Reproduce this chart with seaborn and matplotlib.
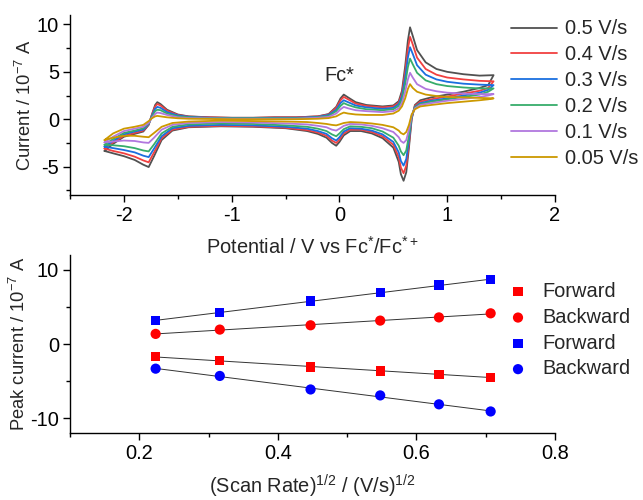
import matplotlib
matplotlib.use("Agg")
import matplotlib.pyplot as plt
import numpy as np
import pandas as pd
import seaborn as sns
from matplotlib.ticker import MultipleLocator

# --- cyclic voltammograms (current in 1e-7 A) ---
scan_rates = ["0.5 V/s", "0.4 V/s", "0.3 V/s", "0.2 V/s", "0.1 V/s", "0.05 V/s"]
cv_colors = ["#515151", "#F14040", "#1A6FDF", "#37AD6B", "#B177DE", "#CC9900"]

E_fwd = [-2.18, -2.1, -2.0, -1.9, -1.82, -1.77, -1.74, -1.71, -1.69, -1.66, -1.6,
         -1.5, -1.4, -1.2, -1.0, -0.8, -0.6, -0.4, -0.2, -0.1, -0.03, 0.01, 0.04,
         0.08, 0.15, 0.25, 0.40, 0.50, 0.55, 0.58, 0.61, 0.635, 0.655, 0.68, 0.72,
         0.8, 0.9, 1.0, 1.15, 1.3, 1.43]
E_rev = [1.43, 1.38, 1.3, 1.15, 1.0, 0.85, 0.75, 0.70, 0.67, 0.645, 0.62, 0.595,
         0.57, 0.55, 0.50, 0.40, 0.30, 0.20, 0.10, 0.04, 0.0, -0.03, -0.07, -0.12,
         -0.2, -0.3, -0.5, -0.8, -1.1, -1.4, -1.55, -1.65, -1.72, -1.77, -1.82,
         -1.9, -2.0, -2.1, -2.18]

I_fwd = {
    "0.5 V/s": [-3.35, -2.6, -1.85, -1.55, -1.3, -0.6, 0.5, 1.5, 1.8, 1.6, 1.0, 0.5, 0.3,
                0.2, 0.15, 0.15, 0.2, 0.2, 0.3, 0.55, 1.3, 2.2, 2.6, 2.3, 1.8, 1.5, 1.35,
                1.45, 1.9, 3.0, 5.6, 8.3, 9.7, 8.8, 7.3, 6.0, 5.3, 5.0, 4.75, 4.6, 4.65],
    "0.4 V/s": [-3.1, -2.45, -1.75, -1.45, -1.2, -0.55, 0.45, 1.35, 1.6, 1.45, 0.9, 0.45,
                0.28, 0.2, 0.15, 0.15, 0.2, 0.2, 0.3, 0.5, 1.2, 2.0, 2.35, 2.1, 1.65, 1.4,
                1.25, 1.35, 1.75, 2.7, 5.0, 7.4, 8.7, 7.9, 6.5, 5.3, 4.7, 4.4, 4.2, 4.05, 4.0],
    "0.3 V/s": [-2.9, -2.3, -1.6, -1.3, -1.1, -0.5, 0.35, 1.1, 1.3, 1.2, 0.75, 0.4, 0.25,
                0.15, 0.12, 0.12, 0.15, 0.15, 0.25, 0.45, 1.0, 1.7, 2.0, 1.8, 1.45, 1.25,
                1.1, 1.2, 1.6, 2.4, 4.4, 6.5, 7.6, 6.9, 5.7, 4.7, 4.2, 3.95, 3.75, 3.65, 3.6],
    "0.2 V/s": [-2.7, -2.1, -1.45, -1.2, -0.95, -0.45, 0.25, 0.85, 1.0, 0.95, 0.6, 0.3,
                0.2, 0.12, 0.1, 0.1, 0.1, 0.1, 0.2, 0.35, 0.85, 1.4, 1.7, 1.5, 1.25, 1.05,
                0.95, 1.05, 1.4, 2.1, 3.7, 5.5, 6.4, 5.8, 4.9, 4.1, 3.7, 3.5, 3.35, 3.25, 3.25],
    "0.1 V/s": [-2.45, -1.85, -1.25, -1.0, -0.8, -0.4, 0.15, 0.55, 0.7, 0.65, 0.45, 0.2,
                0.12, 0.08, 0.05, 0.05, 0.05, 0.05, 0.15, 0.25, 0.6, 1.05, 1.3, 1.15, 0.95,
                0.85, 0.75, 0.85, 1.15, 1.7, 2.9, 4.2, 4.9, 4.4, 3.7, 3.2, 2.95, 2.8, 2.7,
                2.65, 2.65],
    "0.05 V/s": [-2.2, -1.5, -1.0, -0.8, -0.6, -0.2, 0.1, 0.3, 0.35, 0.3, 0.2, 0.1, 0.05,
                 0.03, 0.0, 0.0, 0.0, 0.0, 0.05, 0.12, 0.3, 0.55, 0.7, 0.6, 0.5, 0.45, 0.45,
                 0.6, 0.9, 1.35, 2.2, 3.2, 3.7, 3.3, 2.9, 2.6, 2.45, 2.35, 2.3, 2.25, 2.2],
}
I_rev = {
    "0.5 V/s": [4.65, 3.6, 3.3, 2.9, 2.6, 2.3, 2.0, 1.5, 0.0, -3.0, -5.6, -6.5, -5.8, -4.5,
                -3.0, -2.0, -1.5, -1.25, -1.25, -1.7, -2.4, -2.8, -2.5, -1.95, -1.55, -1.25,
                -0.95, -0.8, -0.75, -0.85, -1.2, -2.2, -3.9, -5.05, -4.8, -4.3, -3.9, -3.6, -3.35],
    "0.4 V/s": [4.0, 3.3, 3.0, 2.7, 2.4, 2.1, 1.85, 1.4, 0.1, -2.6, -4.9, -5.7, -5.1, -4.0,
                -2.7, -1.8, -1.35, -1.1, -1.1, -1.5, -2.15, -2.5, -2.25, -1.75, -1.4, -1.15,
                -0.9, -0.75, -0.7, -0.8, -1.1, -2.0, -3.5, -4.55, -4.35, -3.95, -3.6, -3.35, -3.1],
    "0.3 V/s": [3.6, 3.1, 2.8, 2.5, 2.2, 1.95, 1.7, 1.3, 0.2, -2.2, -4.2, -4.9, -4.4, -3.5,
                -2.4, -1.6, -1.2, -1.0, -0.95, -1.3, -1.9, -2.25, -2.0, -1.55, -1.25, -1.0,
                -0.8, -0.65, -0.6, -0.7, -0.95, -1.8, -3.1, -4.0, -3.85, -3.5, -3.25, -3.05, -2.9],
    "0.2 V/s": [3.25, 2.9, 2.6, 2.35, 2.1, 1.85, 1.6, 1.25, 0.3, -1.7, -3.3, -3.8, -3.4, -2.8,
                -1.95, -1.3, -0.95, -0.8, -0.75, -1.05, -1.5, -1.8, -1.6, -1.25, -1.0, -0.8,
                -0.65, -0.5, -0.45, -0.55, -0.8, -1.5, -2.65, -3.4, -3.3, -3.05, -2.85, -2.75, -2.7],
    "0.1 V/s": [2.65, 2.5, 2.35, 2.15, 1.95, 1.7, 1.5, 1.15, 0.4, -1.1, -2.2, -2.5, -2.3, -1.9,
                -1.35, -0.95, -0.7, -0.55, -0.5, -0.7, -1.0, -1.2, -1.1, -0.85, -0.7, -0.55,
                -0.45, -0.35, -0.3, -0.4, -0.6, -1.1, -1.95, -2.5, -2.45, -2.3, -2.25, -2.35, -2.45],
    "0.05 V/s": [2.2, 2.1, 2.0, 1.85, 1.7, 1.5, 1.35, 1.05, 0.5, -0.6, -1.35, -1.6, -1.45, -1.2,
                 -0.85, -0.6, -0.45, -0.35, -0.3, -0.4, -0.55, -0.65, -0.6, -0.5, -0.4, -0.3,
                 -0.25, -0.2, -0.15, -0.25, -0.4, -0.8, -1.45, -1.9, -1.85, -1.75, -1.75, -1.95, -2.2],
}

# --- peak currents vs sqrt(scan rate) ---
sqrt_rate = [0.2236, 0.3162, 0.4472, 0.5477, 0.6325, 0.7071]
red_forward = [-1.7, -2.23, -3.08, -3.6, -4.06, -4.46]
red_backward = [1.38, 1.96, 2.54, 3.17, 3.6, 4.15]
blue_forward = [3.2, 4.24, 5.8, 6.9, 7.95, 8.7]
blue_backward = [-3.3, -4.28, -6.1, -6.9, -8.1, -9.06]

sns.set_theme(style="ticks")
plt.rcParams["font.family"] = ["Liberation Sans", "DejaVu Sans"]
plt.rcParams["mathtext.fontset"] = "custom"
plt.rcParams["mathtext.rm"] = "Liberation Sans"
plt.rcParams["mathtext.it"] = "Liberation Sans:italic"
plt.rcParams["mathtext.default"] = "regular"
plt.rcParams["axes.unicode_minus"] = False
FS = 14.4
FS_Y = 13.2

rows = []
for rate in scan_rates:
    for e, i in zip(E_fwd, I_fwd[rate]):
        rows.append((rate, e, i))
    for e, i in zip(E_rev, I_rev[rate]):
        rows.append((rate, e, i))
cv = pd.DataFrame(rows, columns=["rate", "E", "I"])

fig = plt.figure(figsize=(6.43, 5.0), dpi=100)
ax1 = fig.add_axes([70 / 643, 1 - 195 / 500, 485 / 643, 180 / 500])
ax2 = fig.add_axes([70 / 643, 1 - 433.3 / 500, 485 / 643, 178.3 / 500])
ax2.patch.set_alpha(0)


def style_axis(ax):
    sns.despine(ax=ax)
    for s in ("left", "bottom"):
        ax.spines[s].set_color("black")
        ax.spines[s].set_linewidth(1.0)
    ax.tick_params(which="major", direction="out", length=5, width=1,
                   colors="black", labelsize=FS, pad=3)
    ax.tick_params(which="minor", direction="out", length=3, width=1, colors="black")


sns.lineplot(data=cv, x="E", y="I", hue="rate", hue_order=scan_rates,
             palette=cv_colors, sort=False, estimator=None, lw=1.3, ax=ax1)
ax1.set_xlim(-2.5, 2)
ax1.set_ylim(-8, 11)
ax1.xaxis.set_major_locator(MultipleLocator(1))
ax1.xaxis.set_minor_locator(MultipleLocator(0.5))
ax1.yaxis.set_major_locator(MultipleLocator(5))
ax1.yaxis.set_minor_locator(MultipleLocator(2.5))
style_axis(ax1)
ax1.set_xlabel("Potential / V vs Fc$^{*}$/Fc$^{*+}$", fontsize=FS, labelpad=8)
ax1.set_ylabel("Current / 10$^{-7}$ A", fontsize=FS_Y, labelpad=1)
ax1.text(0.0, 4.6, "Fc*", fontsize=FS, ha="center", va="center")
ax1.legend(loc="upper left", bbox_to_anchor=(511 / 643, 1 - 19.5 / 500),
           bbox_transform=fig.transFigure, frameon=False, fontsize=FS,
           handlelength=2.3, handletextpad=0.4, labelspacing=0.34,
           borderpad=0, borderaxespad=0)

x_arr = np.array(sqrt_rate)
for series in (blue_forward, red_backward, red_forward, blue_backward):
    sns.regplot(x=x_arr, y=np.array(series), scatter=False, ci=None, ax=ax2,
                color="black", line_kws={"lw": 0.7, "color": "#333333"})
sns.scatterplot(x=x_arr, y=red_forward, marker="s", color="#FF0000", s=44,
                edgecolor="none", label="Forward", ax=ax2, zorder=3)
sns.scatterplot(x=x_arr, y=red_backward, marker="o", color="#FF0000", s=54,
                edgecolor="none", label="Backward", ax=ax2, zorder=3)
sns.scatterplot(x=x_arr, y=blue_forward, marker="s", color="#0000FF", s=44,
                edgecolor="none", label="Forward", ax=ax2, zorder=3)
sns.scatterplot(x=x_arr, y=blue_backward, marker="o", color="#0000FF", s=54,
                edgecolor="none", label="Backward", ax=ax2, zorder=3)
ax2.set_xlim(0.1, 0.8)
ax2.set_ylim(-12, 12)
ax2.xaxis.set_major_locator(MultipleLocator(0.2))
ax2.xaxis.set_minor_locator(MultipleLocator(0.1))
ax2.yaxis.set_major_locator(MultipleLocator(10))
ax2.yaxis.set_minor_locator(MultipleLocator(5))
style_axis(ax2)
ax2.set_xlabel("(Scan Rate)$^{1/2}$ / (V/s)$^{1/2}$", fontsize=FS, labelpad=7)
ax2.set_ylabel("Peak current / 10$^{-7}$ A", fontsize=FS_Y, labelpad=1)
ax2.legend(loc="upper left", bbox_to_anchor=(508 / 643, 1 - 282 / 500),
           bbox_transform=fig.transFigure, frameon=False, fontsize=FS,
           handlelength=1.0, handletextpad=0.7, labelspacing=0.34,
           borderpad=0, borderaxespad=0)

fig.savefig("out.png", dpi=100)
